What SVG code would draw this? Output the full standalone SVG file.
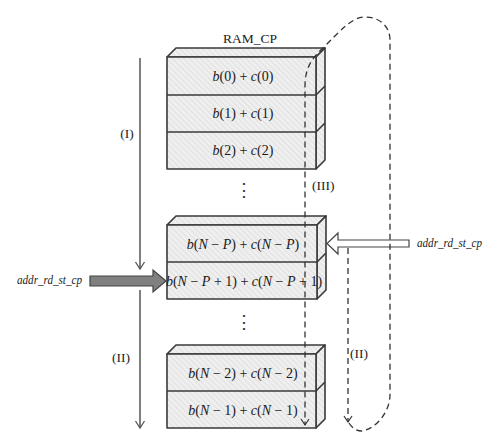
<svg xmlns="http://www.w3.org/2000/svg" width="500" height="448" viewBox="0 0 500 448">
<defs>
<pattern id="hatch" patternUnits="userSpaceOnUse" width="4" height="4" patternTransform="rotate(-45)">
<rect width="4" height="4" fill="#efefef"/>
<line x1="0" y1="0" x2="0" y2="4" stroke="#d6d6d6" stroke-width="1.2"/>
</pattern>
<marker id="chev" markerWidth="10" markerHeight="10" refX="8" refY="5" orient="auto" markerUnits="userSpaceOnUse">
<polyline points="2,1 8,5 2,9" fill="none" stroke="#333" stroke-width="1.2"/>
</marker>
<marker id="chevg" markerWidth="12" markerHeight="12" refX="10" refY="6" orient="auto" markerUnits="userSpaceOnUse">
<polyline points="3,1.5 10,6 3,10.5" fill="none" stroke="#555" stroke-width="1.3"/>
</marker>
</defs>
<style>
.face{fill:url(#hatch);stroke:#3a3a3a;stroke-width:1.6;stroke-linejoin:round}
.div{stroke:#3a3a3a;stroke-width:1.6}
.m{font-family:"Liberation Serif",serif;font-size:14px;fill:#1a1a1a;text-anchor:middle}
.i{font-style:italic}
.lbl{font-family:"Liberation Serif",serif;font-size:13.5px;fill:#222}
.sig{font-family:"Liberation Serif",serif;font-size:12.5px;font-style:italic;fill:#1a1a1a}
.dash{fill:none;stroke:#333;stroke-width:1.3;stroke-dasharray:6 4}
.solid{fill:none;stroke:#555;stroke-width:1.5}
.dots{font-family:"DejaVu Serif",serif;font-size:18px;fill:#333;text-anchor:middle}
</style>

<text class="lbl" x="250" y="43" text-anchor="middle">RAM_CP</text>

<g id="stack-top">
<polygon class="face" points="167,57 176,48 325,48 316,57"/>
<polygon class="face" points="316,57 325,48 325,160 316,169"/>
<rect class="face" x="167" y="57" width="149" height="112"/>
<line class="div" x1="167" y1="95" x2="316" y2="95"/>
<line class="div" x1="167" y1="132" x2="316" y2="132"/>
<line class="div" x1="316" y1="95" x2="325" y2="86"/>
<line class="div" x1="316" y1="132" x2="325" y2="123"/>
<text class="m" x="243" y="81"><tspan class="i">b</tspan>(0) + <tspan class="i">c</tspan>(0)</text>
<text class="m" x="243" y="118"><tspan class="i">b</tspan>(1) + <tspan class="i">c</tspan>(1)</text>
<text class="m" x="243" y="155"><tspan class="i">b</tspan>(2) + <tspan class="i">c</tspan>(2)</text>
</g>

<text class="dots" x="244" y="196">⋮</text>

<g id="stack-mid">
<polygon class="face" points="167,225 176,216 326,216 317,225"/>
<polygon class="face" points="317,225 326,216 326,290 317,299"/>
<rect class="face" x="167" y="225" width="150" height="74"/>
<line class="div" x1="167" y1="262" x2="317" y2="262"/>
<line class="div" x1="317" y1="262" x2="326" y2="253"/>
<text class="m" x="243" y="249"><tspan class="i">b</tspan>(<tspan class="i">N</tspan> − <tspan class="i">P</tspan>) + <tspan class="i">c</tspan>(<tspan class="i">N</tspan> − <tspan class="i">P</tspan>)</text>
<text class="m" x="244" y="286"><tspan class="i">b</tspan>(<tspan class="i">N</tspan> − <tspan class="i">P</tspan> + 1) + <tspan class="i">c</tspan>(<tspan class="i">N</tspan> − <tspan class="i">P</tspan> + 1)</text>
</g>

<text class="dots" x="244" y="328">⋮</text>

<g id="stack-bot">
<polygon class="face" points="167,354 176,345 325,345 316,354"/>
<polygon class="face" points="316,354 325,345 325,419 316,428"/>
<rect class="face" x="167" y="354" width="149" height="74"/>
<line class="div" x1="167" y1="391" x2="316" y2="391"/>
<line class="div" x1="316" y1="391" x2="325" y2="382"/>
<text class="m" x="243" y="378"><tspan class="i">b</tspan>(<tspan class="i">N</tspan> − 2) + <tspan class="i">c</tspan>(<tspan class="i">N</tspan> − 2)</text>
<text class="m" x="243" y="415"><tspan class="i">b</tspan>(<tspan class="i">N</tspan> − 1) + <tspan class="i">c</tspan>(<tspan class="i">N</tspan> − 1)</text>
</g>

<g id="input-left">
<text class="sig" x="17" y="284" textLength="65" lengthAdjust="spacingAndGlyphs">addr_rd_st_cp</text>
<polygon points="90,276 153,276 153,270 166,281 153,292 153,286 90,286" fill="#808080" stroke="#444" stroke-width="1.2" stroke-linejoin="miter"/>
</g>

<g id="input-right">
<polygon points="409,240 338,240 338,233 327,243.5 338,254 338,247 409,247" fill="#fff" stroke="#444" stroke-width="1.2"/>
<text class="sig" x="417" y="247" textLength="65" lengthAdjust="spacingAndGlyphs">addr_rd_st_cp</text>
</g>

<g id="connectors">
<line class="solid" x1="140" y1="58" x2="140" y2="269" marker-end="url(#chevg)"/>
<line class="solid" x1="140" y1="290" x2="140" y2="428" marker-end="url(#chevg)"/>
<line class="dash" x1="348" y1="248" x2="348" y2="422" marker-end="url(#chev)"/>
<path class="dash" d="M349,423 Q354,431 362,431 C378,428 390,410 390,395 L390,40 C390,26 379,17 365,17 C352,17 340,31 323,48 C312,58 305,68 305,86 L305,425" marker-end="url(#chev)"/>
</g>

<text class="lbl" x="127" y="138" text-anchor="middle">(I)</text>
<text class="lbl" x="121" y="362" text-anchor="middle">(II)</text>
<text class="lbl" x="312" y="190">(III)</text>
<text class="lbl" x="350" y="358">(II)</text>
</svg>
